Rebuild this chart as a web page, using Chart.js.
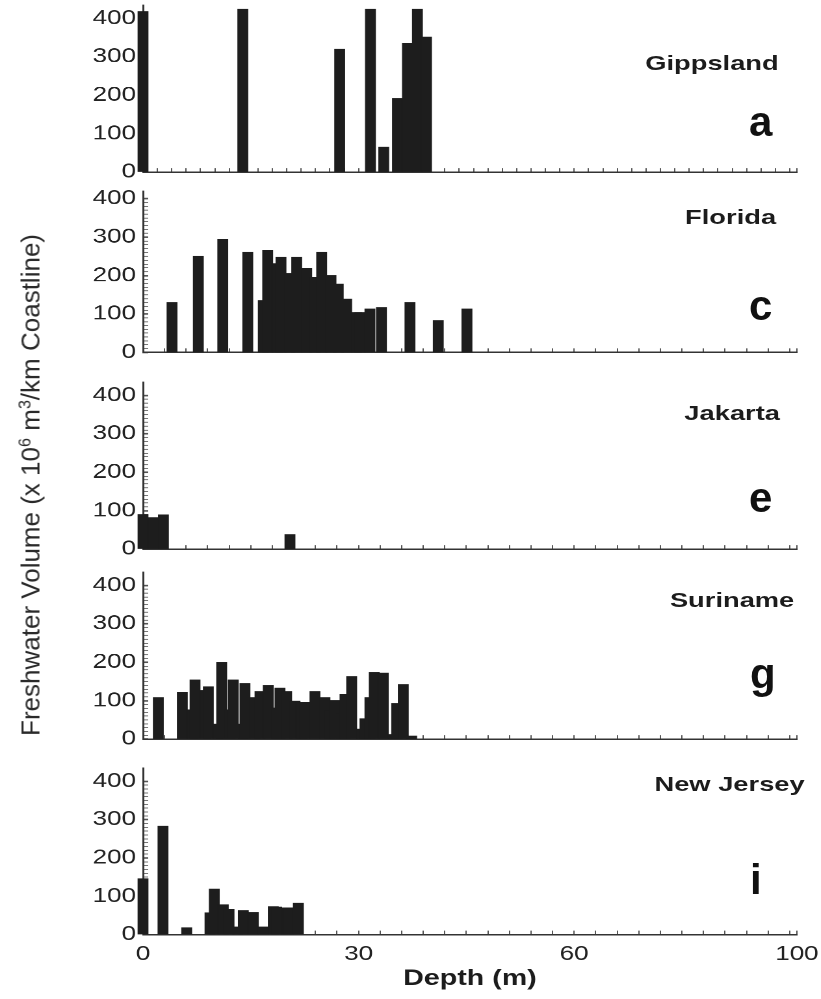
<!DOCTYPE html>
<html>
<head>
<meta charset="utf-8">
<script src="https://cdn.jsdelivr.net/npm/chart.js@4.4.1/dist/chart.umd.min.js"></script>
<style>
  html, body { margin: 0; padding: 0; background: #fff; }
  body { width: 821px; height: 999px; position: relative; overflow: hidden; font-family: "Liberation Sans", Arial, sans-serif; }
  /* the original figure is stretched sideways, so the plots are drawn narrow and scaled */
  #stretch { position: absolute; left: 0; top: 0; width: 632px; height: 999px; transform: scaleX(1.3); transform-origin: 0 0; }
  .panel { position: absolute; left: 0; width: 632px; }
  .region { position: absolute; font-weight: bold; font-size: 21px; line-height: 21px; color: #1c1c1c; white-space: nowrap; }
  .letter { position: absolute; font-weight: bold; font-size: 42px; line-height: 42px; color: #111; }
  #ytitle { position: absolute; left: 31px; top: 485px; transform: translate(-50%, -50%) rotate(-90deg); font-size: 26px; color: #2a2a2a; white-space: nowrap; }
  #ytitle sup { font-size: 0.62em; vertical-align: 0.55em; line-height: 0; }
</style>
</head>
<body>
<div id="stretch"></div>
<div id="ytitle">Freshwater Volume (x 10<sup>6</sup> m<sup>3</sup>/km Coastline)</div>
<script>
// bar depth (m) and freshwater volume (x 10^6 m3/km coastline)
const gippslandDepth = [0, 13.89, 27.37, 31.65, 33.5, 35.41, 36.8, 38.19, 39.45];
const gippslandVolume = [418, 424, 320, 424, 65, 192, 335, 424, 352];

const floridaDepth = [4.04, 7.7, 11.1, 14.58, 16.74, 17.35, 18.74, 19.2, 20.45, 21.39, 22.78, 23.93,
  24.86, 26.16, 27.17, 28.34, 29.73, 30.19, 31.58, 33.18, 37.15, 41.09, 45.08];
const floridaVolume = [130, 250, 294, 261, 135, 265, 231, 248, 205, 248, 218, 196,
  261, 200, 178, 139, 104, 104, 113, 117, 130, 83, 113];

const jakartaDepth = [0, 1.45, 2.84, 20.45];
const jakartaVolume = [90, 82, 89, 38];

const surinameDepth = [2.13, 5.47, 6.86, 7.24, 8.63, 9.09, 10.48, 10.95, 12.11, 12.56, 13.96, 14.19,
  15.58, 16.28, 17.43, 18.6, 19.06, 19.99, 21.15, 22.08, 22.54, 23.93, 25.32, 26.02, 26.71, 27.65,
  28.11, 29.04, 30.43, 30.89, 31.58, 32.18, 33.44, 34.83, 35.3, 36.22, 37.39];
const surinameVolume = [108, 122, 76, 154, 127, 136, 39, 200, 76, 154, 39, 145,
  108, 124, 140, 81, 133, 124, 99, 96, 96, 124, 108, 74, 101, 67,
  117, 163, 26, 53, 108, 174, 172, 12, 93, 142, 8];

const newJerseyDepth = [0, 2.78, 6.08, 9.32, 9.92, 11.17, 11.97, 13.18, 13.96, 15.35, 16.74, 18.13,
  18.6, 19.99, 20.22, 21.62];
const newJerseyVolume = [146, 283, 18, 57, 119, 78, 66, 20, 63, 58, 20, 73, 72, 70, 70, 82];

const regionNames = ["Gippsland", "Florida", "Jakarta", "Suriname", "New Jersey"];
const panelLetters = ["a", "c", "e", "g", "i"];
const depthTickValues = [0, 30, 60, 91];
const depthTickLabels = ["0", "30", "60", "100"];
const volumeTickValues = [0, 100, 200, 300, 400];
const depthMax = 91;
const volumeMax = [435, 420, 435, 435, 435];

const series = [
  [gippslandDepth, gippslandVolume],
  [floridaDepth, floridaVolume],
  [jakartaDepth, jakartaVolume],
  [surinameDepth, surinameVolume],
  [newJerseyDepth, newJerseyVolume]
];

// placement of each panel on the page
const layout = [
  { top: 5,   minor: 2, nameRight: 33, nameTop: 52,  letterLeft: 749, letterTop: 101 },
  { top: 191, minor: 3, nameRight: 35, nameTop: 206, letterLeft: 749, letterTop: 285 },
  { top: 382, minor: 3, nameRight: 32, nameTop: 402, letterLeft: 749, letterTop: 477 },
  { top: 572, minor: 3, nameRight: 21, nameTop: 589, letterLeft: 750, letterTop: 653 },
  { top: 768, minor: 3, nameRight: 13, nameTop: 773, letterLeft: 750, letterTop: 859 }
];

const FONT = "'Liberation Sans', Arial, sans-serif";
const PX_PER_UNIT = 0.383;
const stretch = document.getElementById("stretch");

function makePanel(i) {
  const L = layout[i];
  const last = i === series.length - 1;
  const padTop = 14;
  const h = volumeMax[i] * PX_PER_UNIT;
  const boxTop = L.top - padTop;

  const div = document.createElement("div");
  div.className = "panel";
  div.style.top = boxTop + "px";
  div.style.height = (last ? 999 - boxTop : padTop + h + 8) + "px";
  const cv = document.createElement("canvas");
  div.appendChild(cv);
  stretch.appendChild(div);

  const name = document.createElement("div");
  name.className = "region";
  name.textContent = regionNames[i];
  name.style.right = L.nameRight + "px";
  name.style.top = L.nameTop + "px";
  stretch.appendChild(name);

  const letter = document.createElement("div");
  letter.className = "letter";
  letter.textContent = panelLetters[i];
  letter.style.left = L.letterLeft + "px";
  letter.style.top = L.letterTop + "px";
  document.body.appendChild(letter);

  const [depth, volume] = series[i];

  new Chart(cv, {
    type: "bar",
    data: {
      datasets: [{
        data: depth.map((d, k) => ({ x: d, y: volume[k] })),
        backgroundColor: "#1d1d1d",
        barThickness: 7.7,
        clip: false
      }]
    },
    options: {
      responsive: true,
      maintainAspectRatio: false,
      animation: false,
      devicePixelRatio: 2,
      events: [],
      layout: { padding: { top: padTop, right: 19, bottom: last ? 7 : 0, left: 0 } },
      plugins: { legend: { display: false }, tooltip: { enabled: false } },
      scales: {
        x: {
          type: "linear",
          min: 0,
          max: depthMax,
          offset: false,
          afterBuildTicks: s => {
            const t = [];
            for (let v = 0; v <= 90; v += L.minor) t.push({ value: v });
            t.push({ value: depthMax });
            s.ticks = t;
          },
          ticks: {
            display: last,
            autoSkip: false,
            maxRotation: 0,
            padding: 12,
            color: "#222",
            font: { family: FONT, size: 20 },
            callback: v => {
              const k = depthTickValues.indexOf(v);
              return k >= 0 ? depthTickLabels[k] : "";
            }
          },
          grid: { offset: false, drawOnChartArea: false, tickLength: -4, tickColor: "#555", tickWidth: 1 },
          border: { display: true, color: "#333", width: 1.5 },
          title: {
            display: last,
            text: "Depth (m)",
            color: "#1c1c1c",
            font: { family: FONT, size: 22, weight: "bold" },
            padding: { top: 4, bottom: 0 }
          },
          afterFit: s => {
            s.height = last ? 57.4 : 8;
            s.paddingLeft = 0;
            s.paddingRight = 0;
          }
        },
        y: {
          min: 0,
          max: volumeMax[i],
          afterBuildTicks: s => {
            const t = [];
            for (let v = 0; v <= 400; v += 10) t.push({ value: v });
            s.ticks = t;
          },
          ticks: {
            autoSkip: false,
            padding: 9.4,
            color: "#222",
            font: { family: FONT, size: 20 },
            callback: v => volumeTickValues.includes(v) ? String(v) : ""
          },
          grid: {
            drawOnChartArea: false,
            tickLength: -4,
            tickColor: "#555",
            tickWidth: c => (c.tick && c.tick.value % 100 === 0 ? 1.6 : 0.8)
          },
          border: { display: true, color: "#333", width: 1.5 },
          afterFit: s => {
            s.width = 110;
            s.paddingTop = 0;
            s.paddingBottom = 0;
          }
        }
      }
    }
  });
}

for (let i = 0; i < series.length; i++) makePanel(i);
</script>
</body>
</html>
